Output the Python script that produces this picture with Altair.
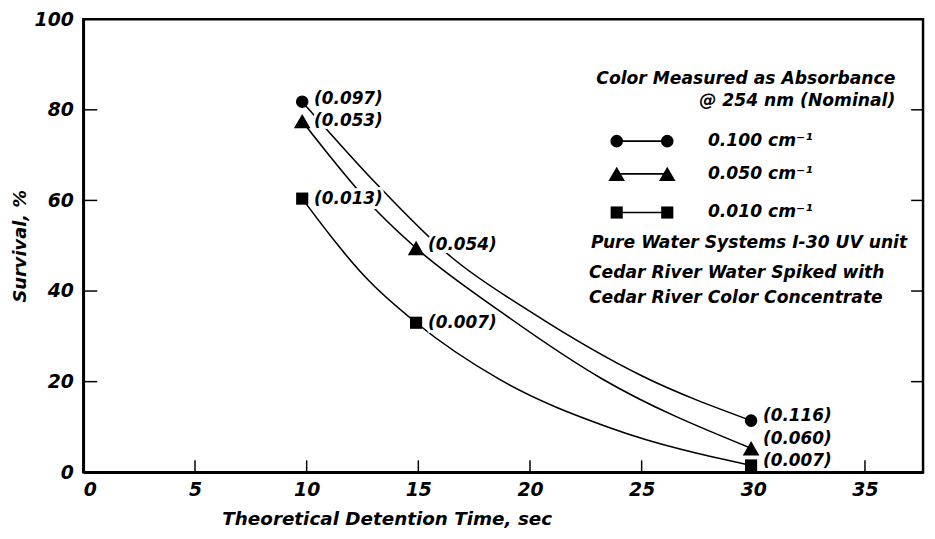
import altair as alt
import pandas as pd

# ---------------- data ----------------
series_names = ["0.100 cm⁻¹", "0.050 cm⁻¹", "0.010 cm⁻¹"]
series_shapes = ["circle", "triangle-up", "square"]
series_sizes = [160, 280, 150]

# measured points (time, survival)
circle_time = [9.8, 29.9]
circle_surv = [81.8, 11.4]
tri_time = [9.8, 14.9, 29.9]
tri_surv = [77.5, 49.5, 5.3]
sq_time = [9.8, 14.9, 29.9]
sq_surv = [60.4, 33.0, 1.5]

# hand-drawn fitted curves
circle_curve_t = [9.8, 13.1, 16.5, 20.0, 25.0, 29.9]
circle_curve_s = [81.8, 63.8, 47.4, 35.5, 21.3, 11.4]
tri_curve_t = [9.8, 13.2, 14.9, 18.7, 23.2, 29.9]
tri_curve_s = [77.5, 57.4, 49.5, 35.4, 20.7, 5.3]
sq_curve_t = [9.8, 12.8, 14.9, 18.6, 23.7, 29.9]
sq_curve_s = [60.4, 42.2, 33.0, 20.6, 9.6, 1.5]

# point annotations (color in parentheses)
label_text = ["(0.097)", "(0.053)", "(0.013)", "(0.054)", "(0.007)", "(0.116)", "(0.060)", "(0.007)"]
label_time = [9.8, 9.8, 9.8, 14.9, 14.9, 29.9, 29.9, 29.9]
label_surv = [82.3, 77.5, 60.4, 50.1, 33.0, 12.5, 7.4, 2.4]

x_ticks = [0, 5, 10, 15, 20, 25, 30, 35]
y_ticks = [0, 20, 40, 60, 80, 100]
inner_x_ticks = [5, 10, 15, 20, 25, 30, 35]
inner_y_ticks = [20, 40, 60, 80]

legend_title = ["Color Measured as Absorbance", "@ 254 nm (Nominal)"]
notes = ["Pure Water Systems I-30 UV unit", "Cedar River Water Spiked with", "Cedar River Color Concentrate"]

# ---------------- tables ----------------
counts = [len(circle_time), len(tri_time), len(sq_time)]
pts = pd.DataFrame({
    "t": circle_time + tri_time + sq_time,
    "s": circle_surv + tri_surv + sq_surv,
    "series": sum([[n] * c for n, c in zip(series_names, counts)], []),
    "shape": sum([[n] * c for n, c in zip(series_shapes, counts)], []),
    "size": sum([[n] * c for n, c in zip(series_sizes, counts)], []),
})
ccounts = [len(circle_curve_t), len(tri_curve_t), len(sq_curve_t)]
curves = pd.DataFrame({
    "t": circle_curve_t + tri_curve_t + sq_curve_t,
    "s": circle_curve_s + tri_curve_s + sq_curve_s,
    "series": sum([[n] * c for n, c in zip(series_names, ccounts)], []),
})
labels = pd.DataFrame({"t": label_time, "s": label_surv, "txt": label_text})

FONT = "DejaVu Sans"
W, H = 847, 457

xs = alt.Scale(domain=[0, 37.6], nice=False, zero=False)
ys = alt.Scale(domain=[0, 100], nice=False)

x_axis = alt.Axis(values=x_ticks, title="Theoretical Detention Time, sec", grid=False, ticks=False,
                  labelFont=FONT, labelFontSize=19, labelFontStyle="italic", labelFontWeight="bold",
                  labelPadding=8, labelColor="black",
                  domainColor="black", domainWidth=2.5,
                  titleFont=FONT, titleFontSize=18.5, titleFontStyle="italic", titleFontWeight="bold",
                  titleColor="black", titleX=306, titleY=47, titleBaseline="middle", titleAlign="center")
y_axis = alt.Axis(values=y_ticks, title="Survival, %", grid=False, ticks=False,
                  labelFont=FONT, labelFontSize=19, labelFontStyle="italic", labelFontWeight="bold",
                  labelPadding=10, labelColor="black",
                  domainColor="black", domainWidth=2.5,
                  titleFont=FONT, titleFontSize=18, titleFontStyle="italic", titleFontWeight="bold",
                  titleColor="black", titleX=-63, titleY=H / 2, titleBaseline="middle", titleAlign="center",
                  titleAngle=270)

base_x = alt.X("t:Q", scale=xs, axis=x_axis)
base_y = alt.Y("s:Q", scale=ys, axis=y_axis)

curve_layer = alt.Chart(curves).mark_line(interpolate="monotone", color="black", strokeWidth=1.6).encode(
    x=base_x, y=base_y, detail="series:N")

label_style = dict(align="left", baseline="middle", dx=12, font=FONT, fontSize=17,
                   fontStyle="italic", fontWeight="bold")
halo = alt.Chart(labels).mark_text(stroke="white", strokeWidth=6, fill="white", **label_style).encode(
    x=alt.X("t:Q", scale=xs), y=alt.Y("s:Q", scale=ys), text="txt:N")
label_layer = alt.Chart(labels).mark_text(color="black", **label_style).encode(
    x=alt.X("t:Q", scale=xs), y=alt.Y("s:Q", scale=ys), text="txt:N")

point_layer = alt.Chart(pts).mark_point(filled=True, color="black", opacity=1).encode(
    x=alt.X("t:Q", scale=xs), y=alt.Y("s:Q", scale=ys),
    shape=alt.Shape("shape:N", scale=None),
    size=alt.Size("size:Q", scale=None))

# inward tick marks
bt = pd.DataFrame({"t": inner_x_ticks})
lt = pd.DataFrame({"s": inner_y_ticks})
bottom_ticks = alt.Chart(bt).mark_rule(color="black", strokeWidth=1.5).encode(
    x=alt.X("t:Q", scale=xs), y=alt.value(H), y2=alt.value(H - 12))
left_ticks = alt.Chart(lt).mark_rule(color="black", strokeWidth=1.5).encode(
    y=alt.Y("s:Q", scale=ys), x=alt.value(0), x2=alt.value(14))
right_ticks = alt.Chart(lt).mark_rule(color="black", strokeWidth=1.5).encode(
    y=alt.Y("s:Q", scale=ys), x=alt.value(W), x2=alt.value(W - 12))

# legend block (drawn by hand like the original)
text_style = dict(font=FONT, fontSize=17.3, fontStyle="italic", fontWeight="bold", color="black",
                  baseline="middle")
legend_layers = []
for txt, yy in zip(legend_title, [60, 83]):
    legend_layers.append(alt.Chart(pd.DataFrame({"txt": [txt]})).mark_text(align="right", **text_style).encode(
        x=alt.value(819), y=alt.value(yy), text="txt:N"))
for name, shp, sz, yy in zip(series_names, series_shapes, series_sizes, [123, 156, 195]):
    d = pd.DataFrame({"txt": [name]})
    legend_layers.append(alt.Chart(d).mark_rule(color="black", strokeWidth=1.6).encode(
        x=alt.value(538), x2=alt.value(589), y=alt.value(yy)))
    for xx in [538, 589]:
        legend_layers.append(alt.Chart(d).mark_point(filled=True, color="black", opacity=1, size=sz,
                                                     shape=shp).encode(
            x=alt.value(xx), y=alt.value(yy)))
    legend_layers.append(alt.Chart(d).mark_text(align="left", **text_style).encode(
        x=alt.value(630), y=alt.value(yy), text="txt:N"))
for txt, xx, yy in zip(notes, [512, 510, 510], [226, 256, 281]):
    legend_layers.append(alt.Chart(pd.DataFrame({"txt": [txt]})).mark_text(align="left", **text_style).encode(
        x=alt.value(xx), y=alt.value(yy), text="txt:N"))

chart = alt.layer(
    curve_layer, halo, label_layer, point_layer, bottom_ticks, left_ticks, right_ticks, *legend_layers
).properties(
    width=W, height=H,
    autosize=alt.AutoSizeParams(type="none"),
    padding={"left": 76, "top": 9, "right": 4, "bottom": 62},
).configure_view(stroke="black", strokeWidth=2.5)

chart.save("out.html", embed_options={"renderer": "svg", "actions": False})
